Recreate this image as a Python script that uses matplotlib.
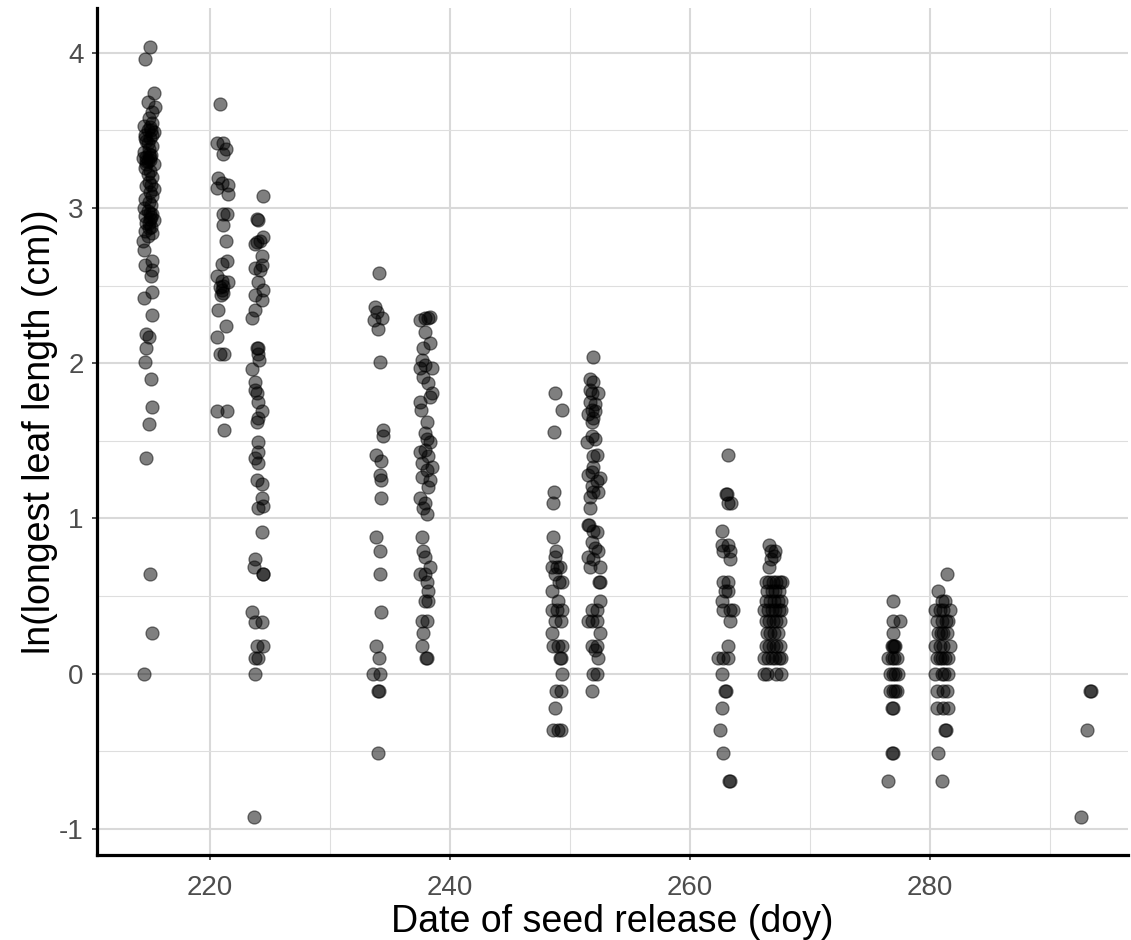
import numpy as np
import matplotlib.pyplot as plt
from matplotlib.ticker import MultipleLocator

plt.rcParams['font.family'] = ['Liberation Sans', 'DejaVu Sans']
plt.rcParams['axes.unicode_minus'] = False

# leaf length (ln cm) against seed release day, one list pair per release group
day215_x = [215.0, 214.6, 215.3, 214.8, 215.4, 215.2,
            214.9, 215.2, 214.5, 215.0, 214.8, 215.3, 214.6, 215.0, 214.7, 215.2, 214.9, 214.5,
            215.1, 214.7, 214.4, 215.0, 214.8, 215.3, 214.6, 215.0, 214.8, 215.2, 214.9, 214.7,
            215.3, 215.0, 215.2, 214.6, 214.9, 215.1, 214.5, 214.8, 215.2, 214.6, 215.0, 215.3,
            214.7, 215.1, 214.9, 214.6, 215.2, 214.8, 215.1, 214.9, 214.7, 215.1, 215.0, 214.6,
            214.8, 215.0, 214.7, 215.1, 214.9, 215.2,
            214.4, 214.5, 215.2, 214.6, 215.2, 215.1, 215.2, 214.5, 215.2, 214.7, 214.9, 214.7,
            214.6, 215.1, 215.2, 214.9, 214.7, 215.0, 215.2, 214.5]
day215_y = [4.04, 3.96, 3.74, 3.68, 3.65, 3.62,
            3.58, 3.55, 3.53, 3.52, 3.50, 3.49, 3.47, 3.45, 3.43, 3.40, 3.38, 3.36,
            3.34, 3.33, 3.32, 3.31, 3.30, 3.28, 3.26, 3.24, 3.22, 3.20, 3.17, 3.14,
            3.12, 3.10, 3.08, 3.06, 3.04, 3.02, 3.00, 2.98, 2.96, 2.95, 2.93, 2.92,
            2.90, 2.88, 2.87, 2.85, 2.84, 2.82, 3.50, 3.35, 3.28, 3.15, 2.97, 3.45,
            3.42, 3.33, 3.30, 2.94, 2.90, 3.47,
            2.79, 2.73, 2.66, 2.63, 2.60, 2.56, 2.46, 2.42, 2.31, 2.19, 2.17, 2.10,
            2.01, 1.90, 1.72, 1.61, 1.39, 0.64, 0.26, 0.00]

day221_x = [220.83, 220.58, 221.08, 221.33, 221.08, 220.67, 220.58, 221.0, 221.5, 221.5,
            221.08, 221.42, 221.08, 221.33, 221.0, 221.42, 220.58, 221.0, 220.83, 221.08,
            221.5, 221.0, 221.1, 220.9, 220.67, 221.33, 220.58, 220.83, 221.17, 220.58,
            221.42, 221.17]
day221_y = [3.67, 3.42, 3.42, 3.38, 3.35, 3.19, 3.13, 3.16, 3.15, 3.09,
            2.96, 2.96, 2.89, 2.79, 2.64, 2.66, 2.56, 2.53, 2.49, 2.45,
            2.52, 2.47, 2.50, 2.44, 2.34, 2.24, 2.17, 2.06, 2.06, 1.69,
            1.69, 1.57]

day224_x = [224.42, 223.92, 224.0, 224.42, 223.75, 223.92, 224.17, 224.33, 223.75, 224.17,
            224.33, 224.0, 224.42, 223.75, 224.33, 223.75, 223.5, 223.92, 224.0, 224.0,
            224.1, 223.5, 223.75, 223.75, 223.92, 224.0, 224.33, 224.0, 223.92, 224.0,
            224.0, 223.75, 224.0, 223.92, 224.33, 224.33, 224.0, 224.42, 224.33, 223.75,
            223.67, 224.42, 224.45, 223.5, 223.75, 224.33, 223.92, 224.42, 223.75, 224.0,
            223.75, 223.67]
day224_y = [3.08, 2.93, 2.92, 2.81, 2.77, 2.78, 2.79, 2.69, 2.61, 2.60,
            2.63, 2.52, 2.47, 2.44, 2.41, 2.34, 2.29, 2.10, 2.10, 2.06,
            2.02, 1.96, 1.88, 1.83, 1.81, 1.75, 1.69, 1.65, 1.62, 1.49,
            1.43, 1.39, 1.36, 1.25, 1.22, 1.13, 1.07, 1.08, 0.91, 0.74,
            0.69, 0.64, 0.64, 0.40, 0.33, 0.33, 0.18, 0.18, 0.10, 0.10,
            0.00, -0.92]

day234_x = [234.08, 233.75, 233.92, 233.67, 234.33, 234.0, 234.17, 234.42, 234.42, 233.83,
            234.25, 234.17, 234.25, 234.25, 233.83, 234.17, 234.17, 234.25, 233.83, 234.08,
            233.58, 234.17, 234.0, 234.05, 234.0]
day234_y = [2.58, 2.36, 2.33, 2.28, 2.29, 2.22, 2.01, 1.57, 1.53, 1.41,
            1.37, 1.28, 1.25, 1.13, 0.88, 0.79, 0.64, 0.40, 0.18, 0.10,
            0.00, 0.00, -0.11, -0.11, -0.51]

day238_x = [238.17, 237.5, 237.92, 238.33, 237.92, 238.33, 237.75, 237.67, 237.92, 238.5,
            237.5, 237.75, 238.17, 238.5, 238.33, 237.5, 237.58, 238.08, 237.92, 238.08,
            238.33, 237.5, 237.92, 238.17, 237.67, 238.5, 238.08, 237.67, 238.33, 238.17,
            237.5, 237.92, 237.75, 238.08, 237.67, 237.75, 237.92, 238.33, 237.5, 237.92,
            238.08, 238.17, 237.92, 238.17, 237.67, 238.08, 237.75, 237.67, 238.0, 238.05]
day238_y = [2.29, 2.28, 2.29, 2.30, 2.20, 2.13, 2.10, 2.02, 1.99, 1.97,
            1.97, 1.91, 1.87, 1.81, 1.78, 1.75, 1.70, 1.62, 1.55, 1.51,
            1.49, 1.43, 1.44, 1.40, 1.36, 1.33, 1.31, 1.27, 1.25, 1.20,
            1.13, 1.10, 1.07, 1.03, 0.88, 0.79, 0.75, 0.69, 0.64, 0.64,
            0.59, 0.53, 0.47, 0.47, 0.34, 0.34, 0.26, 0.18, 0.10, 0.10]

day249_x = [248.75, 249.33, 248.67, 248.67, 248.58, 248.58, 248.83, 248.75, 248.5, 248.92,
            249.17, 248.75, 249.08, 249.33, 248.5, 249.0, 248.5, 248.92, 249.33, 248.75,
            249.25, 248.5, 248.58, 249.0, 249.33, 249.17, 249.25, 249.33, 248.83, 249.25,
            248.75, 248.58, 249.0, 249.25]
day249_y = [1.81, 1.70, 1.56, 1.17, 1.10, 0.88, 0.79, 0.75, 0.69, 0.69,
            0.69, 0.64, 0.59, 0.59, 0.53, 0.47, 0.41, 0.41, 0.41, 0.34,
            0.34, 0.26, 0.18, 0.18, 0.18, 0.10, 0.10, 0.00, -0.11, -0.11,
            -0.22, -0.36, -0.36, -0.36]

day252_x = [251.94, 251.67, 251.94, 251.67, 252.36, 251.81, 251.67, 252.08, 251.81, 252.08,
            251.53, 251.94, 251.81, 251.81, 252.08, 251.39, 252.22, 251.94, 251.94, 251.81,
            252.5, 251.53, 252.22, 251.81, 252.36, 251.94, 251.67, 251.67, 251.53, 251.6,
            251.94, 252.22, 251.81, 252.08, 252.36, 251.53, 251.94, 252.5, 251.67, 252.5,
            252.45, 252.5, 251.81, 252.22, 251.53, 252.22, 251.81, 252.5, 251.81, 252.22,
            252.08, 252.36, 252.22, 251.94, 251.81]
day252_y = [2.04, 1.90, 1.88, 1.83, 1.81, 1.81, 1.75, 1.74, 1.70, 1.69,
            1.67, 1.65, 1.62, 1.53, 1.51, 1.49, 1.41, 1.40, 1.33, 1.30,
            1.26, 1.28, 1.24, 1.21, 1.17, 1.17, 1.14, 1.07, 0.96, 0.96,
            0.92, 0.91, 0.85, 0.81, 0.79, 0.75, 0.74, 0.69, 0.69, 0.59,
            0.59, 0.47, 0.41, 0.41, 0.34, 0.34, 0.34, 0.26, 0.18, 0.18,
            0.15, 0.10, 0.00, 0.00, -0.11]

day263_x = [263.19, 263.0, 263.05, 263.19, 263.39, 262.64, 262.64, 263.19, 262.78, 263.33,
            263.33, 262.78, 263.19, 262.92, 263.19, 262.64, 262.78, 263.33, 263.61, 263.33,
            263.19, 262.36, 262.78, 263.19, 262.64, 262.92, 262.97, 262.64, 262.5, 262.72,
            263.28, 263.33]
day263_y = [1.41, 1.16, 1.16, 1.10, 1.10, 0.92, 0.83, 0.83, 0.79, 0.79,
            0.74, 0.59, 0.59, 0.53, 0.53, 0.47, 0.41, 0.41, 0.41, 0.34,
            0.18, 0.10, 0.10, 0.10, 0.00, -0.11, -0.11, -0.22, -0.36, -0.51,
            -0.69, -0.69]

day267_x = [266.6, 267.1, 266.75, 267.0, 266.6, 266.75,
            266.3, 266.6, 266.9, 267.2, 267.5, 267.65,
            266.4, 266.8, 267.1, 267.4,
            266.3, 266.7, 267.0, 267.3, 267.6,
            266.2, 266.5, 266.8, 267.1, 267.4, 267.6,
            266.3, 266.6, 266.9, 267.2, 267.5,
            266.4, 266.7, 267.0, 267.3,
            266.3, 266.6, 266.9, 267.2, 267.5,
            266.2, 266.5, 266.8, 267.1, 267.4, 267.6,
            266.2, 266.4, 267.2, 267.6]
day267_y = [0.83, 0.79, 0.79, 0.76, 0.69, 0.74,
            0.59, 0.59, 0.59, 0.59, 0.59, 0.59,
            0.53, 0.53, 0.53, 0.53,
            0.47, 0.47, 0.47, 0.47, 0.47,
            0.41, 0.41, 0.41, 0.41, 0.41, 0.41,
            0.34, 0.34, 0.34, 0.34, 0.34,
            0.26, 0.26, 0.26, 0.26,
            0.18, 0.18, 0.18, 0.18, 0.18,
            0.10, 0.10, 0.10, 0.10, 0.10, 0.10,
            0.00, 0.00, 0.00, 0.00]

day277_x = [276.94, 276.94, 277.5, 276.94, 276.81, 276.94, 277.05, 277.0, 276.81, 277.22,
            276.53, 277.0, 276.67, 277.08, 277.36, 276.9, 276.67, 277.08, 277.22, 276.9,
            276.81, 276.94, 276.81, 276.94, 276.53]
day277_y = [0.47, 0.34, 0.34, 0.26, 0.18, 0.18, 0.18, 0.18, 0.10, 0.10,
            0.10, 0.10, 0.00, 0.00, 0.00, 0.00, -0.11, -0.11, -0.11, -0.11,
            -0.22, -0.22, -0.51, -0.51, -0.69]

day281_x = [281.39, 280.69, 280.97, 281.25, 280.42, 281.11, 281.67, 280.8, 280.56, 280.97,
            281.53, 281.3, 280.69, 281.11, 281.39, 280.9, 280.42, 281.11, 281.67, 280.8,
            280.56, 280.97, 281.53, 281.25, 280.8, 280.42, 280.97, 281.53, 281.2, 280.56,
            281.11, 281.39, 280.56, 281.11, 281.53, 281.25, 281.3, 280.69, 280.97]
day281_y = [0.64, 0.53, 0.47, 0.47, 0.41, 0.41, 0.41, 0.41, 0.34, 0.34,
            0.34, 0.34, 0.26, 0.26, 0.26, 0.26, 0.18, 0.18, 0.18, 0.18,
            0.10, 0.10, 0.10, 0.10, 0.10, 0.00, 0.00, 0.00, 0.00, -0.11,
            -0.11, -0.11, -0.22, -0.22, -0.22, -0.36, -0.36, -0.51, -0.69]

day293_x = [293.3, 293.4, 293.05, 292.6]
day293_y = [-0.11, -0.11, -0.36, -0.92]

groups = [(day215_x, day215_y), (day221_x, day221_y), (day224_x, day224_y),
          (day234_x, day234_y), (day238_x, day238_y), (day249_x, day249_y),
          (day252_x, day252_y), (day263_x, day263_y), (day267_x, day267_y),
          (day277_x, day277_y), (day281_x, day281_y), (day293_x, day293_y)]
x = np.concatenate([g[0] for g in groups])
y = np.concatenate([g[1] for g in groups])

fig = plt.figure(figsize=(11.31, 9.40), dpi=100)
ax = fig.add_axes([97/1131, 85/940, 1031/1131, 847/940])

ax.scatter(x, y, s=88, facecolor=(0, 0, 0, 0.5), edgecolor=(0, 0, 0, 0.5),
           linewidth=0.9, zorder=3)

ax.set_xlim(210.58, 296.5)
ax.set_ylim(-1.168, 4.288)
ax.xaxis.set_major_locator(MultipleLocator(20))
ax.xaxis.set_minor_locator(MultipleLocator(10))
ax.yaxis.set_major_locator(MultipleLocator(1))
ax.yaxis.set_minor_locator(MultipleLocator(0.5))

ax.grid(which='major', color='#D9D9D9', linewidth=1.5, zorder=0)
ax.grid(which='minor', color='#DEDEDE', linewidth=0.8, zorder=0)
ax.set_axisbelow(True)

for side in ['top', 'right']:
    ax.spines[side].set_visible(False)
for side in ['left', 'bottom']:
    ax.spines[side].set_linewidth(2.3)
    ax.spines[side].set_color('black')
    ax.spines[side].set_capstyle('projecting')

ax.tick_params(which='major', length=3.5, width=1.2, color='#333333',
               labelsize=20, labelcolor='#4D4D4D')
ax.tick_params(axis='x', pad=11)
ax.tick_params(axis='y', pad=6)
ax.tick_params(which='minor', length=0)

ax.set_xlabel('Date of seed release (doy)', fontsize=27, labelpad=2)
ax.set_ylabel('ln(longest leaf length (cm))', fontsize=27, labelpad=1)

fig.savefig('out.png', dpi=100)
